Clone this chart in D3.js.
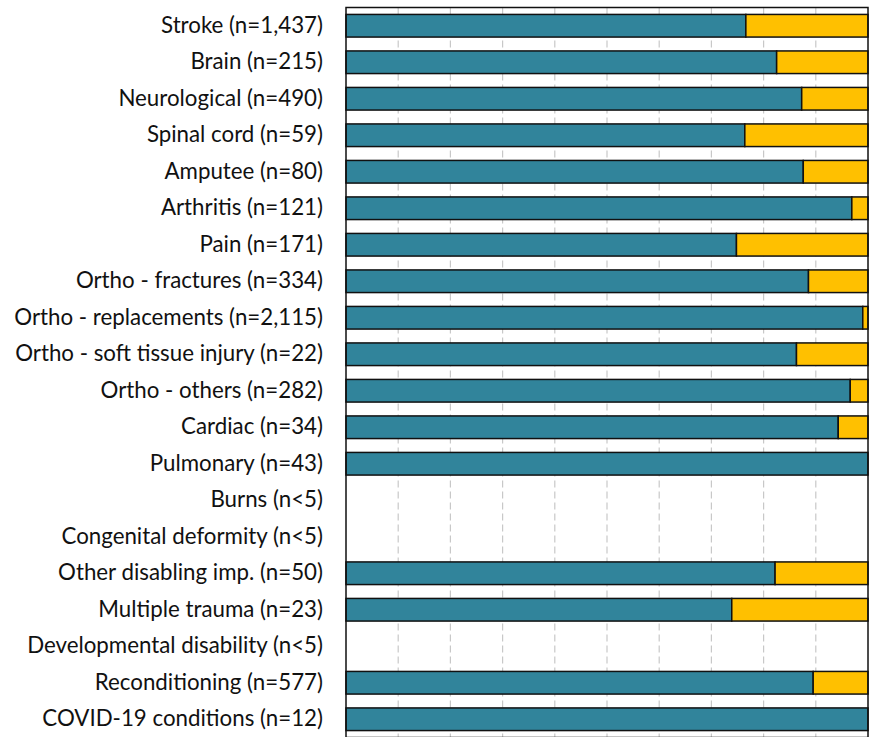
<!DOCTYPE html>
<html><head><meta charset="utf-8">
<script src="https://cdn.jsdelivr.net/npm/d3@7"></script>
<style>html,body{margin:0;padding:0;background:#fff;overflow:hidden}</style>
</head><body><div id="chart"></div>
<script>
const categories = ["Stroke (n=1,437)","Brain (n=215)","Neurological (n=490)","Spinal cord (n=59)","Amputee (n=80)","Arthritis (n=121)","Pain (n=171)","Ortho - fractures (n=334)","Ortho - replacements (n=2,115)","Ortho - soft tissue injury (n=22)","Ortho - others (n=282)","Cardiac (n=34)","Pulmonary (n=43)","Burns (n<5)","Congenital deformity (n<5)","Other disabling imp. (n=50)","Multiple trauma (n=23)","Developmental disability (n<5)","Reconditioning (n=577)","COVID-19 conditions (n=12)"];
const seriesA = [76.6,82.5,87.3,76.4,87.6,96.9,74.8,88.6,99.0,86.3,96.6,94.3,100,null,null,82.2,73.9,null,89.5,100];
const seriesB = [23.4,17.5,12.7,23.6,12.4,3.1,25.2,11.4,1.0,13.7,3.4,5.7,0,null,null,17.8,26.1,null,10.5,0];
const xTicks = [0,10,20,30,40,50,60,70,80,90,100];
const colors = ["#31849B","#FFC000"];

const W = 894, H = 737;
const mLeft = 346, mRight = 868, mTop = 7.5, mBottom = 737.5;
const svg = d3.select("#chart").append("svg").attr("width", W).attr("height", H);

const x = d3.scaleLinear().domain([0,100]).range([mLeft, mRight]);
const y = d3.scaleBand().domain(categories).range([mTop, mBottom]).paddingInner(0.38).paddingOuter(0.19);

// gridlines
svg.append("g").selectAll("line").data(xTicks.slice(1,-1)).join("line")
  .attr("x1", d => x(d)).attr("x2", d => x(d))
  .attr("y1", mTop).attr("y2", mBottom)
  .attr("stroke", "#c8c8c8").attr("stroke-width", 1.2)
  .attr("stroke-dasharray", "7,4");

const rows = categories.map((c,i) => ({c, a: seriesA[i], b: seriesB[i]}));
const g = svg.append("g");
rows.forEach(r => {
  if (r.a == null) return;
  const segs = [{x0:0, x1:r.a, col:colors[0]}];
  if (r.b > 0) segs.push({x0:r.a, x1:r.a + r.b, col:colors[1]});
  segs.forEach(s => {
    g.append("rect")
      .attr("x", x(s.x0)).attr("y", y(r.c))
      .attr("width", x(s.x1) - x(s.x0)).attr("height", y.bandwidth())
      .attr("fill", s.col).attr("stroke", "#111").attr("stroke-width", 1.5);
  });
});

// frame
svg.append("rect").attr("x", mLeft).attr("y", mTop).attr("width", mRight-mLeft).attr("height", mBottom-mTop)
  .attr("fill", "none").attr("stroke", "#111").attr("stroke-width", 1.5);

// y labels
const yAxis = d3.axisLeft(y).tickSize(0).tickPadding(23);
const ya = svg.append("g").attr("transform", `translate(${mLeft},0)`).call(yAxis);
ya.select(".domain").remove();
ya.selectAll("text").attr("font-family", "Lato, sans-serif").attr("font-size", 22.3).attr("fill", "#111");
</script></body></html>
